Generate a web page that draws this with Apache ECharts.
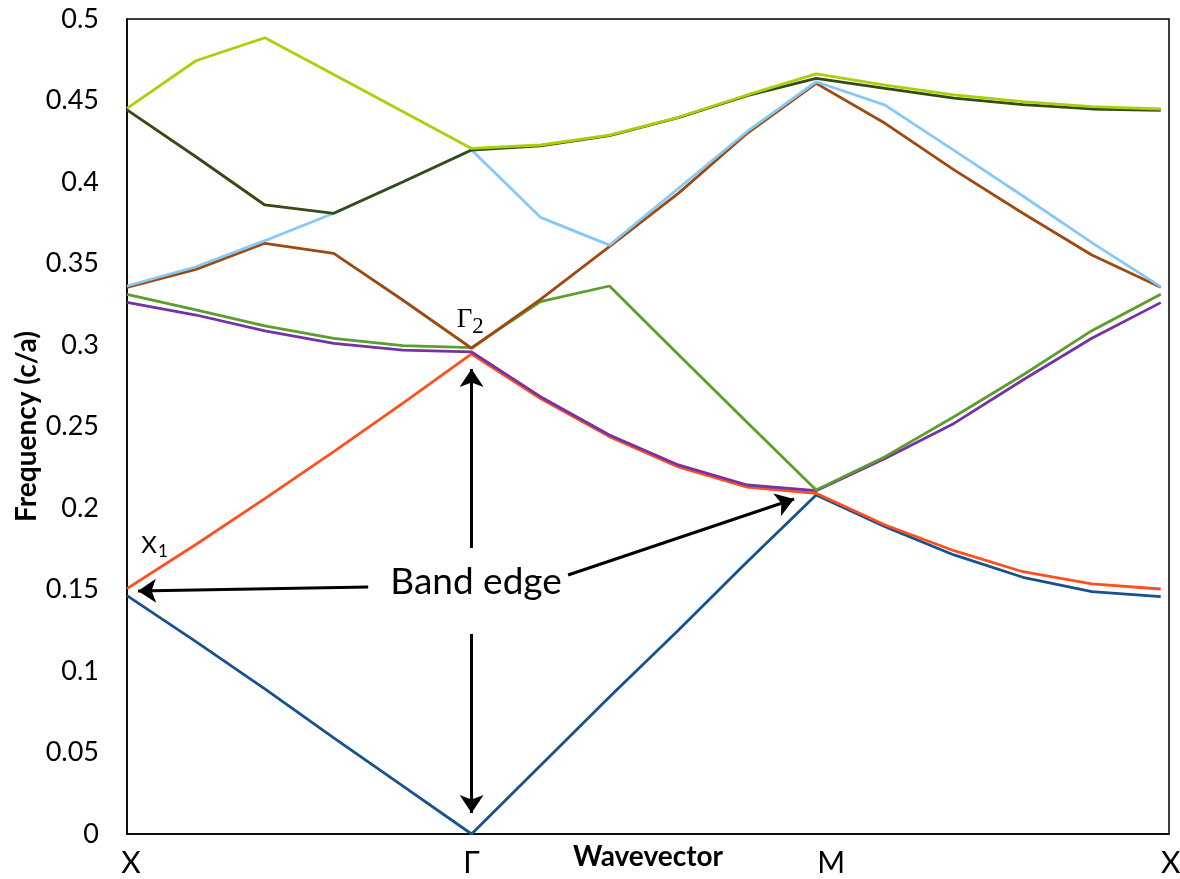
<!DOCTYPE html>
<html><head><meta charset="utf-8">
<style>html,body{margin:0;padding:0;background:#fff}#c{width:1180px;height:879px}</style>
<script src="https://cdn.jsdelivr.net/npm/echarts@6.0.0/dist/echarts.min.js"></script>
</head><body><div id="c"></div>
<script>
// wavevector sample index along X -> Γ -> M -> X
const kIndex = [0,1,2,3,4,5,6,7,8,9,10,11,12,13,14,15];
const kTickValues = [0, 5, 10, 15];
const kTickLabels = ['X', 'Γ', 'M', 'X'];
const yTicks = [0,0.05,0.1,0.15,0.2,0.25,0.3,0.35,0.4,0.45,0.5];

const band1 = [0.1462,0.118,0.089,0.059,0.0295,0,0.042,0.084,0.125,0.167,0.208,0.1885,0.1712,0.1575,0.1487,0.1456];
const band2 = [0.1505,0.1776,0.2058,0.2346,0.2642,0.2945,0.2672,0.2438,0.2252,0.2128,0.209,0.1896,0.1738,0.1609,0.1534,0.1503];
const band3 = [0.3262,0.3184,0.3086,0.301,0.2969,0.2958,0.2683,0.2448,0.2264,0.2141,0.2106,0.2304,0.2519,0.2785,0.3041,0.326];
const band4 = [0.3311,0.3215,0.3117,0.3041,0.2996,0.2984,0.3266,0.3362,0.2942,0.2524,0.211,0.2315,0.256,0.2816,0.3088,0.3311];
const band5 = [0.3354,0.3464,0.3624,0.3562,0.3276,0.298,0.328,0.3603,0.393,0.4299,0.4605,0.436,0.4074,0.3808,0.3552,0.3354];
const band6 = [0.3362,0.348,0.364,0.3808,0.400,0.4196,0.3783,0.3613,0.396,0.431,0.4615,0.4472,0.4194,0.3914,0.3628,0.3358];
const band7 = [0.4442,0.4155,0.3859,0.3808,0.400,0.4196,0.4222,0.4285,0.4395,0.453,0.4636,0.4575,0.4515,0.4475,0.4448,0.4439];
const band8 = [0.4452,0.4744,0.4885,0.466,0.4433,0.4206,0.4227,0.4288,0.4397,0.4534,0.4663,0.4595,0.4534,0.4493,0.4462,0.4448];

const bands = [band1, band2, band3, band4, band5, band6, band7, band8];
const bandColors = ['#17518E','#FF4F1F','#7432A5','#5B9E2C','#9C4A10','#86C9F7','#384A14','#A8D10B'];

// annotation arrows in data units: [fromK, fromF, toK, toF]
const arrows = [
  [3.50, 0.1515, 0.16, 0.1491],
  [5.0, 0.1755, 5.0, 0.2853],
  [5.0, 0.1227, 5.0, 0.0129],
  [6.40, 0.1589, 9.68, 0.2055]
];
// annotation texts: [k, f, rich text]
const notes = [
  [5.065, 0.1545, '{b|Band edge}'],
  [4.98, 0.3155, '{g|Γ}{gs|2}'],
  [0.40, 0.177, '{x|X}{xs|1}']
];

const FONT = 'Lato';
const series = bands.map((b, i) => ({
  type: 'line',
  data: kIndex.map((k, j) => [k, b[j]]),
  showSymbol: false,
  smooth: false,
  silent: true,
  lineStyle: { color: bandColors[i], width: 2.8 },
  itemStyle: { color: bandColors[i] },
  z: 2 + i
}));

series.push({
  type: 'line',
  data: [],
  silent: true,
  z: 20,
  markLine: {
    silent: true,
    animation: false,
    symbol: ['none', 'arrow'],
    symbolSize: 18,
    label: { show: false },
    emphasis: { disabled: true },
    lineStyle: { color: '#000', width: 3, type: 'solid' },
    itemStyle: { color: '#000' },
    data: arrows.map(a => [{ coord: [a[0], a[1]] }, { coord: [a[2], a[3]] }])
  },
  markPoint: {
    silent: true,
    animation: false,
    symbol: 'circle',
    symbolSize: 1,
    itemStyle: { color: 'rgba(0,0,0,0)' },
    label: {
      show: true,
      position: 'inside',
      color: '#000',
      rich: {
        b: { fontFamily: FONT, fontSize: 37, color: '#000' },
        g: { fontFamily: 'Liberation Serif', fontSize: 27, color: '#000' },
        gs: { fontFamily: 'Liberation Serif', fontSize: 23, color: '#000', padding: [14, 0, 0, 0] },
        x: { fontFamily: FONT, fontSize: 24, color: '#000' },
        xs: { fontFamily: FONT, fontSize: 17, color: '#000', padding: [12, 0, 0, 1] }
      }
    },
    data: notes.map(n => ({ coord: [n[0], n[1]], value: n[2], label: { formatter: n[2] } }))
  }
});

const chart = echarts.init(document.getElementById('c'), null, { renderer: 'canvas' });
chart.setOption({
  animation: false,
  backgroundColor: '#fff',
  grid: { left: 127, right: 11, top: 19, bottom: 45, show: true, borderColor: '#000', borderWidth: 1.5, backgroundColor: '#fff', containLabel: false, outerBoundsMode: 'none' },
  xAxis: {
    type: 'value', min: 0, max: 15.12, interval: 5,
    name: 'Wavevector', nameLocation: 'middle', nameGap: 9, nameMoveOverlap: false,
    nameTextStyle: { fontFamily: FONT, fontSize: 28, fontWeight: 'bold', color: '#000', verticalAlign: 'top' },
    axisLine: { show: true, lineStyle: { color: '#000', width: 1.5 } },
    axisTick: { show: false },
    splitLine: { show: false },
    axisLabel: {
      margin: 14,
      color: '#000',
      fontFamily: FONT,
      fontSize: 30,
      formatter: function (v) {
        const idx = kTickValues.indexOf(v);
        if (idx < 0) return '';
        return '{t' + idx + '|' + kTickLabels[idx] + '}';
      },
      rich: {
        t0: { fontFamily: FONT, fontSize: 30, color: '#000', padding: [0, 0, 0, 8] },
        t1: { fontFamily: FONT, fontSize: 30, color: '#000' },
        t2: { fontFamily: FONT, fontSize: 30, color: '#000', padding: [0, 0, 0, 30] },
        t3: { fontFamily: FONT, fontSize: 30, color: '#000', padding: [0, 0, 0, 20] }
      }
    }
  },
  yAxis: {
    type: 'value', min: yTicks[0], max: yTicks[yTicks.length - 1], interval: 0.05,
    name: 'Frequency (c/a)', nameLocation: 'middle', nameGap: 86, nameMoveOverlap: false,
    nameTextStyle: { fontFamily: FONT, fontSize: 28, fontWeight: 'bold', color: '#000' },
    axisLine: { show: true, lineStyle: { color: '#000', width: 1.5 } },
    axisTick: { show: false },
    splitLine: { show: false },
    axisLabel: { margin: 28, color: '#000', fontFamily: FONT, fontSize: 27 }
  },
  series: series
});
</script></body></html>
